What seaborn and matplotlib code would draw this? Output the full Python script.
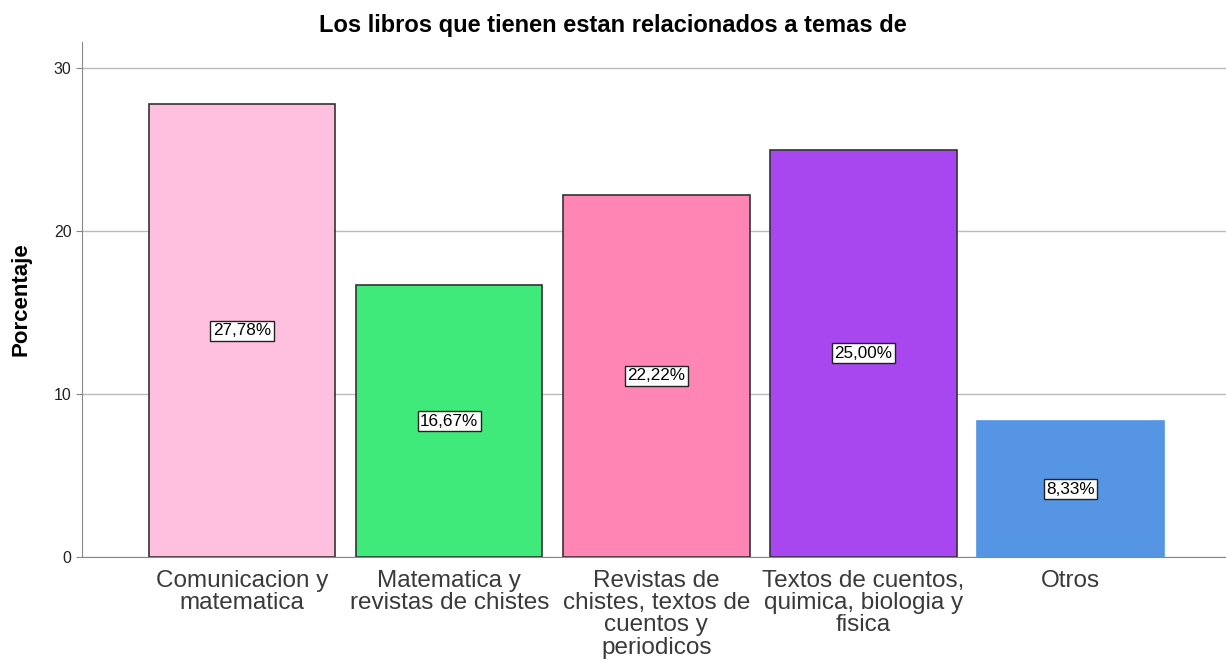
import matplotlib
matplotlib.use("Agg")
import matplotlib.pyplot as plt
import seaborn as sns
import pandas as pd

# datos del grafico
categorias = [
    "Comunicacion y\nmatematica",
    "Matematica y\nrevistas de chistes",
    "Revistas de\nchistes, textos de\ncuentos y\nperiodicos",
    "Textos de cuentos,\nquimica, biologia y\nfisica",
    "Otros",
]
porcentajes = [27.78, 16.67, 22.22, 25.00, 8.33]
colores = ["#FFC0E0", "#40EA7A", "#FF85B5", "#A846F0", "#5595E3"]
yticks = [0, 10, 20, 30]

df = pd.DataFrame({"cat": categorias, "pct": porcentajes})

sns.set_style("white")
plt.rcParams["font.family"] = ["Liberation Sans", "DejaVu Sans"]

fig = plt.figure(figsize=(12.26, 6.61), dpi=100)
ax = fig.add_axes([0.0669, 0.1573, 0.933, 0.7792])

sns.barplot(data=df, x="cat", y="pct", hue="cat", palette=colores, saturation=1,
            width=0.9, edgecolor="#333333", linewidth=1.2, legend=False, ax=ax, zorder=2)

# la ultima barra no tiene borde oscuro
ax.patches[-1].set_edgecolor(colores[-1])

for i, v in enumerate(porcentajes):
    ax.text(i, v / 2, f"{v:.2f}%".replace(".", ","), ha="center", va="center",
            fontsize=12.3, color="black", zorder=3,
            bbox=dict(boxstyle="square,pad=0.15", fc="white", ec="#222222", lw=1))

ax.set_ylim(0, 31.6)
ax.set_xlim(-0.773, 4.75)
ax.set_yticks(yticks)
ax.yaxis.grid(True, color="#BBBBBB", linewidth=1, zorder=0)
ax.set_axisbelow(True)
for s in ["top", "right"]:
    ax.spines[s].set_visible(False)
ax.spines["left"].set_color("#888888")
ax.spines["bottom"].set_color("#888888")
ax.tick_params(axis="y", length=4, color="#888888", labelsize=11.5, labelcolor="#222222", left=True)
ax.tick_params(axis="x", length=0, labelsize=17.5, pad=9)
plt.setp(ax.get_xticklabels(), linespacing=1.02, color="#3a3a3a")

ax.set_xlabel("")
ax.set_ylabel("Porcentaje", fontsize=16, fontweight="bold", labelpad=16, color="black")
fig.text(0.5, 0.962, "Los libros que tienen estan relacionados a temas de",
         ha="center", va="center", fontsize=17, fontweight="bold", color="black")

fig.savefig("out.png", dpi=100)
